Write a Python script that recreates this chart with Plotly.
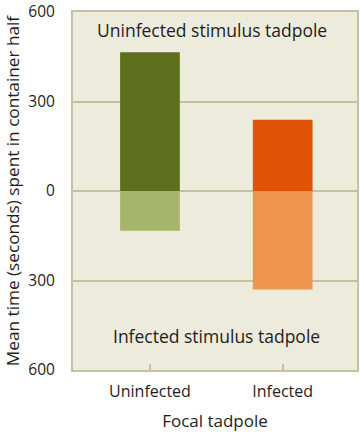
import plotly.graph_objects as go

categories = ["Uninfected", "Infected"]
toward_uninfected = [465, 239]
toward_infected = [-133, -330]
dark_colors = ["#5D6F1C", "#E05206"]
light_colors = ["#A6B46C", "#EE964F"]
y_tickvals = [600, 300, 0, -300, -600]
y_ticktext = ["600", "300", "0", "300", "600"]

FONT = "Open Sans, sans-serif"
BORDER = "#C5C09E"
TXT = "#1e1e1e"

fig = go.Figure()
fig.add_trace(go.Bar(x=[0, 1], y=toward_uninfected, marker=dict(color=dark_colors, line=dict(width=0)),
                     width=0.45, showlegend=False, hoverinfo="skip"))
fig.add_trace(go.Bar(x=[0, 1], y=toward_infected, marker=dict(color=light_colors, line=dict(width=0)),
                     width=0.45, showlegend=False, hoverinfo="skip"))

fig.add_annotation(text="Uninfected stimulus tadpole", x=0.47, y=540, xref="x", yref="y",
                   showarrow=False, font=dict(size=17.5, color=TXT, family=FONT))
fig.add_annotation(text="Infected stimulus tadpole", x=0.5, y=-485, xref="x", yref="y",
                   showarrow=False, font=dict(size=17.5, color=TXT, family=FONT))

fig.update_layout(
    width=360, height=432,
    margin=dict(l=73, r=3, t=12, b=62),
    paper_bgcolor="white",
    plot_bgcolor="#EDEBDC",
    barmode="relative",
    font=dict(family=FONT, size=16, color=TXT),
    xaxis=dict(
        tickvals=[0, 1], ticktext=categories, range=[-0.58, 1.56],
        ticks="inside", ticklen=6, tickwidth=2, tickcolor=BORDER,
        showgrid=False, zeroline=False, automargin=False,
        showline=True, linecolor=BORDER, linewidth=2, mirror=True,
        tickfont=dict(size=16), ticklabelstandoff=6,
        title=dict(text="Focal tadpole", font=dict(size=17), standoff=14),
    ),
    yaxis=dict(
        tickvals=y_tickvals, ticktext=y_ticktext, range=[-600, 600],
        showgrid=True, gridcolor=BORDER, gridwidth=2, automargin=False,
        zeroline=True, zerolinecolor=BORDER, zerolinewidth=2,
        showline=True, linecolor=BORDER, linewidth=2, mirror=True,
        ticks="", tickfont=dict(size=15.5), ticklabelstandoff=13,
        ticklabeloverflow="allow",
        title=dict(text="Mean time (seconds) spent in container half", font=dict(size=17.2), standoff=4),
    ),
)

fig.write_html("out.html", config={"displayModeBar": False},
               post_script="document.body.style.margin='0';document.body.style.overflow='hidden';")
